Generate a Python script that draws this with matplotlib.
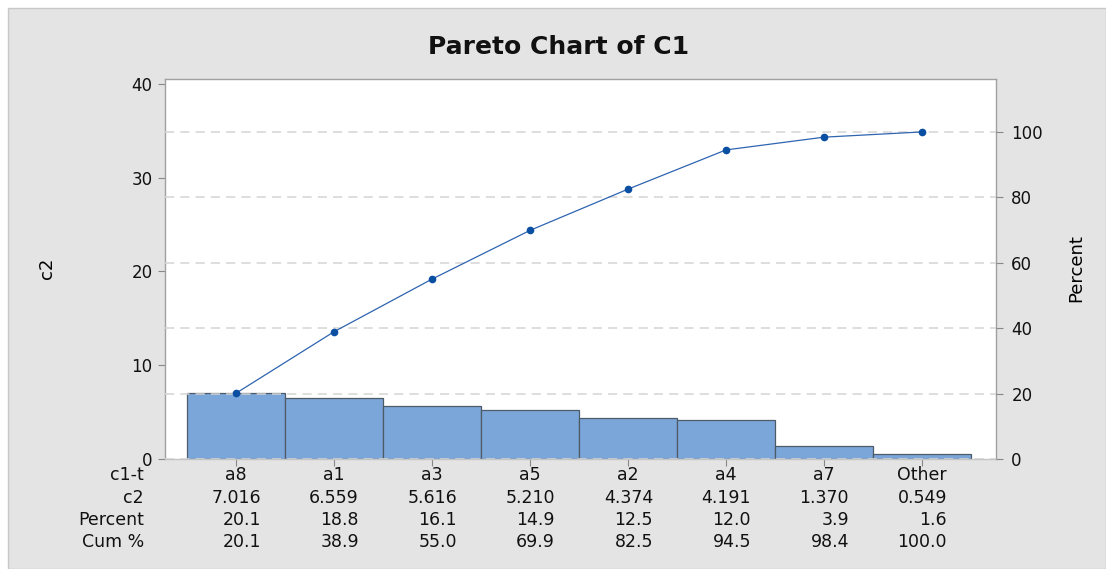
import matplotlib
matplotlib.use("Agg")
import matplotlib.pyplot as plt
from matplotlib.patches import Rectangle
from matplotlib.transforms import blended_transform_factory

categories = ["a8", "a1", "a3", "a5", "a2", "a4", "a7", "Other"]
c2_values = [7.016, 6.559, 5.616, 5.210, 4.374, 4.191, 1.370, 0.549]
percent = [20.1, 18.8, 16.1, 14.9, 12.5, 12.0, 3.9, 1.6]
cum_pct = [20.1, 38.9, 55.0, 69.9, 82.5, 94.5, 98.4, 100.0]
c2_labels = ["7.016", "6.559", "5.616", "5.210", "4.374", "4.191", "1.370", "0.549"]
pct_labels = ["20.1", "18.8", "16.1", "14.9", "12.5", "12.0", "3.9", "1.6"]
cum_labels = ["20.1", "38.9", "55.0", "69.9", "82.5", "94.5", "98.4", "100.0"]
row_names = ["c1-t", "c2", "Percent", "Cum %"]
left_ticks = [0, 10, 20, 30, 40]
right_ticks = [0, 20, 40, 60, 80, 100]

plt.rcParams['font.family'] = ['DejaVu Sans']

W, H = 1106, 569
fig = plt.figure(figsize=(W / 100, H / 100), dpi=100)
fig.patch.set_facecolor("white")
fig.patches.append(Rectangle((8 / W, 0), 1 - 8 / W, 1 - 8 / H, transform=fig.transFigure,
                             facecolor="#e4e4e4", edgecolor="#c8c8c8", lw=1, zorder=-10))

ax = fig.add_axes([165 / W, 1 - 459 / H, (996 - 165) / W, (459 - 79) / H])
ax.set_facecolor("white")
x = list(range(len(categories)))
ax.bar(x, c2_values, width=1.0, color="#7ba6d9", edgecolor="#4d5a68", linewidth=0.9, zorder=2)
ymax = 40.53
total = sum(c2_values)
ax.set_ylim(0, ymax)
ax.set_xlim(-0.724, 7.755)
ax.set_yticks(left_ticks)
ax.set_xticks(x)
ax.set_xticklabels([])
ax.tick_params(axis="y", colors="#888888", labelcolor="#111111", labelsize=12, length=5, width=0.8, pad=4)
ax.tick_params(axis="x", colors="#888888", length=5, width=0.8)
for s in ax.spines.values():
    s.set_color("#a0a0a0")
    s.set_linewidth(1)
ax.spines["bottom"].set_color("#c4c4c4")
ax.set_ylabel("c2", fontsize=13)
ax.yaxis.set_label_coords(-(165 - 56) / (996 - 165), (459 - 268) / (459 - 79))

ax2 = ax.twinx()
ax2.set_ylim(0, ymax / total * 100)
ax2.set_yticks(right_ticks)
ax2.tick_params(axis="y", colors="#888888", labelcolor="#111111", labelsize=12, length=5, width=0.8, pad=6)
ax2.yaxis.grid(True, color="#d4d4d4", linestyle=(0, (6, 4)), linewidth=1.1)
for s in ax2.spines.values():
    s.set_visible(False)
ax2.plot(x, cum_pct, color="#2e64b0", linewidth=0.9, marker="o", markersize=4.5,
         markerfacecolor="#0b4fa3", markeredgecolor="#0b4fa3", zorder=3)
ax2.set_ylabel("Percent", fontsize=13)
ax2.yaxis.set_label_coords(1 + (1067 - 996) / (996 - 165), (459 - 268) / (459 - 79))

fig.text(559 / W, 1 - 47 / H, "Pareto Chart of C1", ha="center", va="center",
         fontsize=18, fontweight="bold", color="#111111")

tr = blended_transform_factory(ax.transData, fig.transFigure)
row_y = [475, 498, 520, 542]
for name, yy in zip(row_names, row_y):
    fig.text(144 / W, 1 - yy / H, name, ha="right", va="center", fontsize=12.5, color="#111111")
for i in x:
    fig.text(i, 1 - row_y[0] / H, categories[i], transform=tr, ha="center", va="center",
             fontsize=12.5, color="#111111")
    for lab_list, yy in zip([c2_labels, pct_labels, cum_labels], row_y[1:]):
        fig.text(i + 0.255, 1 - yy / H, lab_list[i], transform=tr, ha="right", va="center",
                 fontsize=12.5, color="#111111")

fig.savefig("out.png", dpi=100)
